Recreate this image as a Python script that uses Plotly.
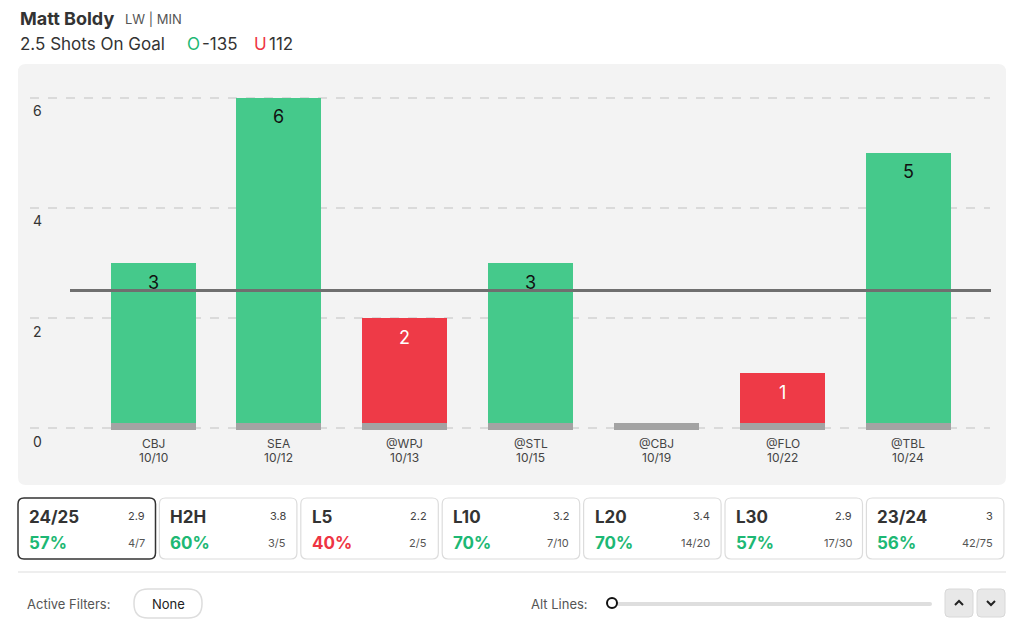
import plotly.graph_objects as go

# ---------------- data ----------------
opponents = ["CBJ", "SEA", "@WPJ", "@STL", "@CBJ", "@FLO", "@TBL"]
dates = ["10/10", "10/12", "10/13", "10/15", "10/19", "10/22", "10/24"]
shots = [3, 6, 2, 3, 0, 1, 5]
line_value = 2.5
y_ticks = [0, 2, 4, 6]

player = "Matt Boldy"
player_info = "LW | MIN"
market = "2.5 Shots On Goal"
over_odds = "-135"
under_odds = "112"

split_labels = ["24/25", "H2H", "L5", "L10", "L20", "L30", "23/24"]
split_avgs = ["2.9", "3.8", "2.2", "3.2", "3.4", "2.9", "3"]
split_pcts = [57, 60, 40, 70, 70, 57, 56]
split_hits = ["4/7", "3/5", "2/5", "7/10", "14/20", "17/30", "42/75"]

# ---------------- style ----------------
W, H = 1024, 624
FONT = "Inter"
GREEN_BAR = "#45c98b"
RED_BAR = "#ee3a47"
GREEN_TXT = "#1db874"
RED_TXT = "#ee3443"
PANEL = "#f3f3f3"
DARK = "#333333"


def X(px):
    return px / W


def Y(py):
    return 1 - py / H


def rrect(x0, y0, x1, y1, r):
    return (f"M {X(x0 + r)},{Y(y0)} L {X(x1 - r)},{Y(y0)} Q {X(x1)},{Y(y0)} {X(x1)},{Y(y0 + r)} "
            f"L {X(x1)},{Y(y1 - r)} Q {X(x1)},{Y(y1)} {X(x1 - r)},{Y(y1)} "
            f"L {X(x0 + r)},{Y(y1)} Q {X(x0)},{Y(y1)} {X(x0)},{Y(y1 - r)} "
            f"L {X(x0)},{Y(y0 + r)} Q {X(x0)},{Y(y0)} {X(x0 + r)},{Y(y0)} Z")


def label(px, py, text, size, color, anchor="left", bold=False):
    return dict(x=X(px), y=Y(py), xref="paper", yref="paper", xanchor=anchor, yanchor="middle",
                text=f"<b>{text}</b>" if bold else text, showarrow=False,
                font=dict(family=FONT, size=size, color=color))


xs = list(range(len(opponents)))
bar_colors = [GREEN_BAR if v > line_value else RED_BAR for v in shots]

fig = go.Figure()
fig.add_trace(go.Bar(x=xs, y=shots, marker=dict(color=bar_colors, line=dict(width=0)),
                     width=0.675, hoverinfo="skip"))
fig.add_trace(go.Bar(x=xs, y=[0.13] * len(xs), base=[-0.04] * len(xs),
                     marker=dict(color="#a3a3a3", line=dict(width=0)),
                     width=0.675, hoverinfo="skip"))

shapes = []
annotations = []

# panel
shapes.append(dict(type="path", path=rrect(18, 64, 1006, 485, 8), xref="paper", yref="paper",
                   fillcolor=PANEL, line=dict(width=0), layer="below"))
# line
shapes.append(dict(type="line", xref="paper", yref="y", x0=X(70), x1=X(991), y0=line_value, y1=line_value,
                   line=dict(color="#6f6f6f", width=3), layer="above"))

# bar value labels
for x, v in zip(xs, shots):
    if v > 0:
        annotations.append(dict(x=x, y=v, xref="x", yref="y", text=str(v), showarrow=False,
                                xanchor="center", yanchor="middle", yshift=-19,
                                font=dict(family=FONT, size=18,
                                          color="#111111" if v > line_value else "white")))
# x labels
for x, o, d in zip(xs, opponents, dates):
    annotations.append(dict(x=x, y=Y(443), xref="x", yref="paper", text=o, showarrow=False,
                            xanchor="center", yanchor="middle",
                            font=dict(family=FONT, size=12, color="#444444")))
    annotations.append(dict(x=x, y=Y(458), xref="x", yref="paper", text=d, showarrow=False,
                            xanchor="center", yanchor="middle",
                            font=dict(family=FONT, size=12, color="#444444")))
# y labels
for t in y_ticks:
    annotations.append(dict(x=X(37), y=t, xref="paper", yref="y", text=str(t), showarrow=False,
                            xanchor="center", yanchor="middle", yshift=-13,
                            font=dict(family=FONT, size=14, color=DARK)))

# header
annotations += [
    label(18, 18, player, 18, DARK, bold=True),
    label(123, 19, player_info, 13, "#555555"),
    label(18, 44, market, 17, DARK),
    label(185, 44, "O", 17, GREEN_TXT),
    label(200, 44, over_odds, 17, DARK),
    label(252, 44, "U", 17, RED_TXT),
    label(267, 44, under_odds, 17, DARK),
]

# split boxes
for i, (lab, avg, pct, hit) in enumerate(zip(split_labels, split_avgs, split_pcts, split_hits)):
    x0 = 18 + 141.4 * i
    x1 = x0 + 137.5
    shapes.append(dict(type="path", path=rrect(x0, 498, x1, 559, 6), xref="paper", yref="paper",
                       fillcolor="white",
                       line=dict(color="#333333" if i == 0 else "#dcdcdc", width=1.5 if i == 0 else 1.2)))
    annotations += [
        label(x0 + 9, 517, lab, 17, DARK, bold=True),
        label(x1 - 9, 516, avg, 11, "#444444", anchor="right"),
        label(x0 + 9, 543, f"{pct}%", 17, GREEN_TXT if pct >= 50 else RED_TXT, bold=True),
        label(x1 - 9, 543, hit, 11, "#555555", anchor="right"),
    ]

# separator
shapes.append(dict(type="line", xref="paper", yref="paper", x0=X(18), x1=X(1006), y0=Y(572), y1=Y(572),
                   line=dict(color="#dddddd", width=1)))
# filters row
annotations += [
    label(25, 604, "Active Filters:", 13, "#555555"),
    label(168, 604, "None", 13, "#222222", anchor="center"),
    label(529, 604, "Alt Lines:", 13, "#555555"),
]
shapes.append(dict(type="path", path=rrect(134, 589, 202, 618, 14), xref="paper", yref="paper",
                   fillcolor="white", line=dict(color="#dddddd", width=1.5)))
# slider track + knob
shapes.append(dict(type="path", path=rrect(612, 602, 932, 606, 2), xref="paper", yref="paper",
                   fillcolor="#dedede", line=dict(width=0)))
shapes.append(dict(type="circle", xref="paper", yref="paper", x0=X(607), x1=X(617), y0=Y(598), y1=Y(608),
                   fillcolor="white", line=dict(color="#111111", width=2)))
# buttons
for bx0, up in [(945, True), (977, False)]:
    shapes.append(dict(type="path", path=rrect(bx0, 589, bx0 + 28, 617, 4), xref="paper", yref="paper",
                       fillcolor="#e8e8e8", line=dict(color="#d8d8d8", width=1)))
    cx = bx0 + 14
    if up:
        p = f"M {X(cx - 4)},{Y(605)} L {X(cx)},{Y(601)} L {X(cx + 4)},{Y(605)}"
    else:
        p = f"M {X(cx - 4)},{Y(601)} L {X(cx)},{Y(605)} L {X(cx + 4)},{Y(601)}"
    shapes.append(dict(type="path", path=p, xref="paper", yref="paper",
                       line=dict(color="#222222", width=2)))

fig.update_layout(
    width=W, height=H, margin=dict(l=0, r=0, t=0, b=0),
    paper_bgcolor="white", plot_bgcolor="rgba(0,0,0,0)",
    barmode="overlay", showlegend=False, bargap=0,
    shapes=shapes, annotations=annotations,
    xaxis=dict(domain=[X(30), X(990)], range=[-0.977, 6.648], showticklabels=False,
               showgrid=False, zeroline=False, fixedrange=True),
    yaxis=dict(domain=[Y(485), Y(64)], range=[-1.036, 6.618], tickvals=y_ticks, showticklabels=False,
               showgrid=True, gridcolor="#dadada", griddash="dash", gridwidth=1.5,
               zeroline=False, fixedrange=True),
    font=dict(family=FONT),
)

fig.write_html("out.html", config={"displayModeBar": False},
               post_script="document.body.style.margin='0';")
